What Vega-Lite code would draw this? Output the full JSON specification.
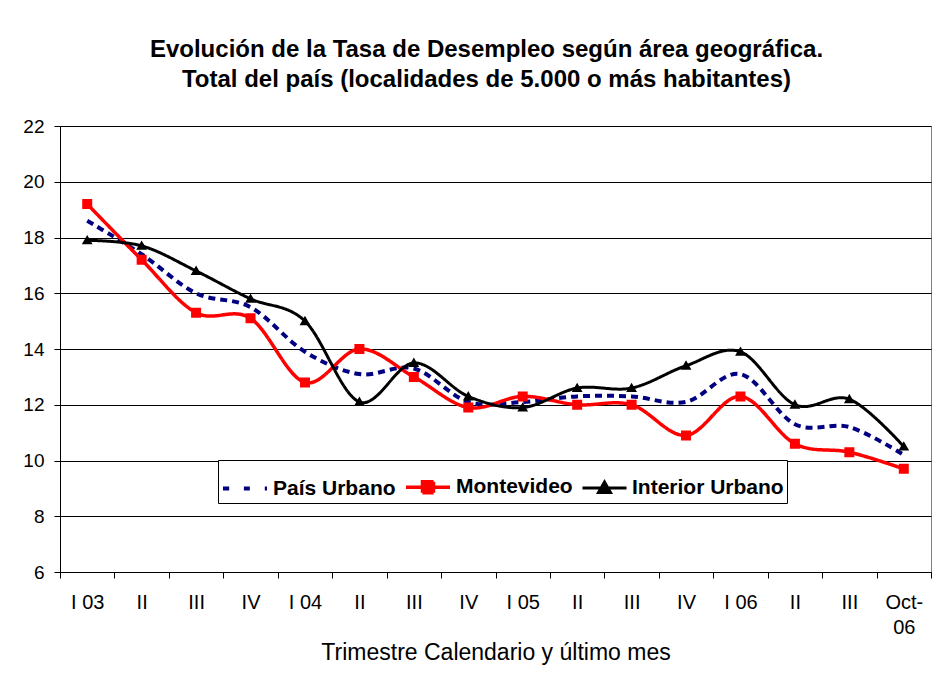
{
  "$schema": "https://vega.github.io/schema/vega-lite/v6.json",
  "autosize": "none",
  "width": 871,
  "height": 446,
  "padding": {"left": 60, "top": 126, "right": 19, "bottom": 106},
  "background": "white",
  "config": {
    "font": "Liberation Sans",
    "view": {"stroke": "#808080", "strokeWidth": 1},
    "axis": {"domainColor": "black", "tickColor": "black", "gridColor": "black", "labelColor": "black", "titleColor": "black", "labelFont": "Liberation Sans", "titleFont": "Liberation Sans"}
  },
  "title": {
    "text": ["Evolución de la Tasa de Desempleo según área geográfica.", "Total del país (localidades de 5.000 o más habitantes)"],
    "font": "Liberation Sans",
    "fontSize": 24,
    "fontWeight": "bold",
    "color": "black",
    "lineHeight": 30,
    "anchor": "middle",
    "offset": 25,
    "dx": -9
  },
  "data": {
    "values": [
      {"periodo": "I 03", "serie": "País Urbano", "tasa": 18.6},
      {"periodo": "II 03", "serie": "País Urbano", "tasa": 17.4},
      {"periodo": "III 03", "serie": "País Urbano", "tasa": 16.0},
      {"periodo": "IV 03", "serie": "País Urbano", "tasa": 15.5},
      {"periodo": "I 04", "serie": "País Urbano", "tasa": 13.9},
      {"periodo": "II 04", "serie": "País Urbano", "tasa": 13.1},
      {"periodo": "III 04", "serie": "País Urbano", "tasa": 13.3},
      {"periodo": "IV 04", "serie": "País Urbano", "tasa": 12.1},
      {"periodo": "I 05", "serie": "País Urbano", "tasa": 12.1},
      {"periodo": "II 05", "serie": "País Urbano", "tasa": 12.3},
      {"periodo": "III 05", "serie": "País Urbano", "tasa": 12.3},
      {"periodo": "IV 05", "serie": "País Urbano", "tasa": 12.1},
      {"periodo": "I 06", "serie": "País Urbano", "tasa": 13.1},
      {"periodo": "II 06", "serie": "País Urbano", "tasa": 11.3},
      {"periodo": "III 06", "serie": "País Urbano", "tasa": 11.2},
      {"periodo": "Oct-06", "serie": "País Urbano", "tasa": 10.2},
      {"periodo": "I 03", "serie": "Montevideo", "tasa": 19.2},
      {"periodo": "II 03", "serie": "Montevideo", "tasa": 17.2},
      {"periodo": "III 03", "serie": "Montevideo", "tasa": 15.3},
      {"periodo": "IV 03", "serie": "Montevideo", "tasa": 15.1},
      {"periodo": "I 04", "serie": "Montevideo", "tasa": 12.8},
      {"periodo": "II 04", "serie": "Montevideo", "tasa": 14.0},
      {"periodo": "III 04", "serie": "Montevideo", "tasa": 13.0},
      {"periodo": "IV 04", "serie": "Montevideo", "tasa": 11.9},
      {"periodo": "I 05", "serie": "Montevideo", "tasa": 12.3},
      {"periodo": "II 05", "serie": "Montevideo", "tasa": 12.0},
      {"periodo": "III 05", "serie": "Montevideo", "tasa": 12.0},
      {"periodo": "IV 05", "serie": "Montevideo", "tasa": 10.9},
      {"periodo": "I 06", "serie": "Montevideo", "tasa": 12.3},
      {"periodo": "II 06", "serie": "Montevideo", "tasa": 10.6},
      {"periodo": "III 06", "serie": "Montevideo", "tasa": 10.3},
      {"periodo": "Oct-06", "serie": "Montevideo", "tasa": 9.7},
      {"periodo": "I 03", "serie": "Interior Urbano", "tasa": 17.9},
      {"periodo": "II 03", "serie": "Interior Urbano", "tasa": 17.7},
      {"periodo": "III 03", "serie": "Interior Urbano", "tasa": 16.8},
      {"periodo": "IV 03", "serie": "Interior Urbano", "tasa": 15.8},
      {"periodo": "I 04", "serie": "Interior Urbano", "tasa": 15.0},
      {"periodo": "II 04", "serie": "Interior Urbano", "tasa": 12.1},
      {"periodo": "III 04", "serie": "Interior Urbano", "tasa": 13.5},
      {"periodo": "IV 04", "serie": "Interior Urbano", "tasa": 12.3},
      {"periodo": "I 05", "serie": "Interior Urbano", "tasa": 11.9},
      {"periodo": "II 05", "serie": "Interior Urbano", "tasa": 12.6},
      {"periodo": "III 05", "serie": "Interior Urbano", "tasa": 12.6},
      {"periodo": "IV 05", "serie": "Interior Urbano", "tasa": 13.4},
      {"periodo": "I 06", "serie": "Interior Urbano", "tasa": 13.9},
      {"periodo": "II 06", "serie": "Interior Urbano", "tasa": 12.0},
      {"periodo": "III 06", "serie": "Interior Urbano", "tasa": 12.2},
      {"periodo": "Oct-06", "serie": "Interior Urbano", "tasa": 10.5}
    ]
  },
  "encoding": {
    "x": {
      "field": "periodo",
      "type": "ordinal",
      "sort": null,
      "scale": {"type": "band", "paddingInner": 0, "paddingOuter": 0},
      "axis": {
        "title": "Trimestre Calendario y último mes",
        "titleFontSize": 23,
        "titleFontWeight": "normal",
        "titlePadding": 4,
        "labelFontSize": 20,
        "labelAngle": 0,
        "labelPadding": 14,
        "labelLineHeight": 25,
        "labelExpr": "!isString(datum.value) ? '' : (datum.value == 'Oct-06' ? ['Oct-', '06'] : (test(/^I /, datum.value) ? datum.value : split(datum.value, ' ')[0]))",
        "tickBand": "extent",
        "tickSize": 6,
        "grid": false,
        "domainWidth": 1
      }
    },
    "y": {
      "field": "tasa",
      "type": "quantitative",
      "scale": {"domain": [6, 22], "nice": false, "zero": false},
      "axis": {
        "title": null,
        "values": [6, 8, 10, 12, 14, 16, 18, 20, 22],
        "labelFontSize": 19,
        "labelPadding": 10,
        "tickSize": 6,
        "grid": true,
        "gridWidth": 1
      }
    },
    "color": {
      "field": "serie",
      "type": "nominal",
      "scale": {"domain": ["País Urbano", "Montevideo", "Interior Urbano"], "range": ["#000080", "#FF0000", "#000000"]},
      "legend": {
        "orient": "none",
        "legendX": 158,
        "legendY": 334,
        "direction": "horizontal",
        "title": null,
        "strokeColor": "black",
        "fillColor": "white",
        "padding": 3,
        "labelFont": "Liberation Sans",
        "labelFontSize": 21,
        "labelFontWeight": "bold",
        "labelColor": "black",
        "labelLimit": 300,
        "labelOffset": 4,
        "columnPadding": 3,
        "symbolSize": 1936,
        "symbolStrokeWidth": 3,
        "symbolOpacity": 1,
        "encode": {"symbols": {"update": {"stroke": {"scale": "color", "field": "value"}, "strokeWidth": {"value": 3}, "size": {"value": 1936}, "opacity": {"value": 1}}}}
      }
    }
  },
  "layer": [
    {
      "mark": {"type": "line", "interpolate": "cardinal"},
      "encoding": {
        "strokeDash": {
          "field": "serie",
          "type": "nominal",
          "scale": {"domain": ["País Urbano", "Montevideo", "Interior Urbano"], "range": [[7, 5], [1, 0], [1, 0]]},
          "legend": null
        },
        "strokeWidth": {
          "field": "serie",
          "type": "nominal",
          "scale": {"domain": ["País Urbano", "Montevideo", "Interior Urbano"], "range": [4, 3, 3]},
          "legend": null
        }
      }
    },
    {
      "transform": [{"filter": "datum.serie != 'País Urbano'"}],
      "mark": {"type": "point", "filled": true, "opacity": 1, "size": 1600},
      "encoding": {
        "shape": {
          "field": "serie",
          "type": "nominal",
          "scale": {
            "domain": ["País Urbano", "Montevideo", "Interior Urbano"],
            "range": ["M-1,0H-0.72M-0.05,0H0.22M0.9,0H1", "M-1,0H1M-0.25,-0.25H0.25V0.25H-0.25Z", "M-1,0H1M0,-0.27L0.27,0.2H-0.27Z"]
          },
          "legend": {
            "orient": "none",
            "legendX": 158,
            "legendY": 334,
            "direction": "horizontal",
            "title": null
          }
        }
      }
    }
  ]
}
